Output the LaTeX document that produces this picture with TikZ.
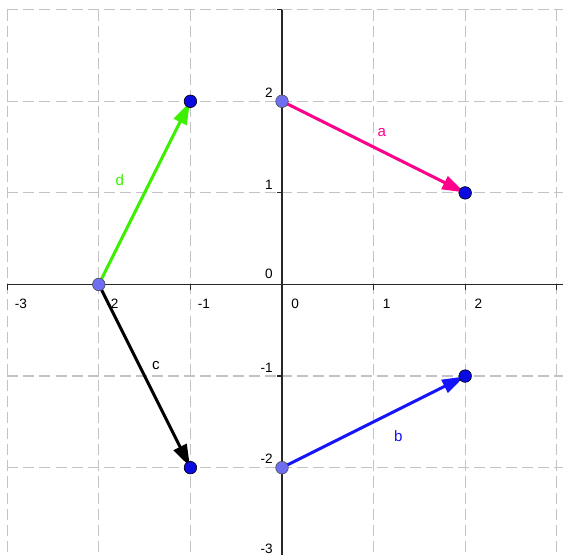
\documentclass[tikz,border=0pt]{standalone}
\usepackage{fontspec}
\setmainfont{Liberation Sans}
\usetikzlibrary{arrows.meta}
\definecolor{gridgray}{RGB}{195,195,195}
\definecolor{axisgray}{RGB}{40,40,40}
\definecolor{vecA}{RGB}{255,0,140}
\definecolor{vecB}{RGB}{20,20,255}
\definecolor{vecD}{RGB}{60,240,0}
\definecolor{startpt}{RGB}{110,110,240}
\definecolor{endpt}{RGB}{10,10,225}
\tikzset{
  gridline/.style={draw=gridgray, line width=1.2pt, dash pattern=on 11pt off 5pt},
  axisline/.style={draw=axisgray, line width=1.6pt},
  ticktext/.style={font=\fontsize{13.5}{13.5}\selectfont, inner sep=0pt, text=black},
  vecline/.style={line width=3pt, -{Triangle[length=22pt,width=14pt]}, shorten >=1pt},
  veclabel/.style={font=\fontsize{15}{15}\selectfont, inner sep=0pt},
  startdot/.style={circle, fill=startpt, draw=black!70, line width=0.6pt, minimum size=12.5pt, inner sep=0pt},
  enddot/.style={circle, fill=endpt, draw=black, line width=0.6pt, minimum size=12.5pt, inner sep=0pt}
}
\begin{document}
\begin{tikzpicture}[x=3.2cm,y=3.2cm]
\useasboundingbox (-3.079,-2.953) rectangle (3.068,3.106);
\fill[white] (-3.079,-2.953) rectangle (3.068,3.106);
% grid
\begin{scope}
\clip (-3.0,-2.953) rectangle (3.068,3.0);
\foreach \k in {-3,...,3} {
  \draw[gridline] (\k,3) -- (\k,-2.953);
}
\foreach \k in {-2,...,3} {
  \draw[gridline] (-3,\k) -- (3.068,\k);
}
\end{scope}
% axes
\draw[axisline] (-3,0) -- (3.068,0);
\draw[axisline] (0,3) -- (0,-2.953);
\foreach \k in {-3,...,3} {
  \draw[axisline, line width=1.2pt] (\k,0) -- (\k,-0.055);
}
\foreach \k in {-2,...,3} {
  \draw[axisline, line width=1.2pt] (0,\k) -- (-0.055,\k);
}
% x labels
\node[ticktext, anchor=north west] (xm3) at (-2.92,-0.155) {-3};
\node[ticktext, anchor=north west] (xm2) at (-1.92,-0.155) {-2};
\node[ticktext, anchor=north west] (xm1) at (-0.92,-0.155) {-1};
\node[ticktext, anchor=north west] (x0) at (0.1,-0.155) {0};
\node[ticktext, anchor=north west] (x1) at (1.1,-0.155) {1};
\node[ticktext, anchor=north west] (x2) at (2.1,-0.155) {2};
% y labels
\node[ticktext, anchor=south east] (y2) at (-0.1,2.04) {2};
\node[ticktext, anchor=south east] (y1) at (-0.1,1.04) {1};
\node[ticktext, anchor=south east] (y0) at (-0.1,0.06) {0};
\node[ticktext, anchor=south east] (ym1) at (-0.1,-0.96) {-1};
\node[ticktext, anchor=south east] (ym2) at (-0.1,-1.96) {-2};
\node[ticktext, anchor=south east] (ym3) at (-0.1,-2.94) {-3};
% points (coordinates)
\coordinate (A0) at (0,2);
\coordinate (A1) at (2,1);
\coordinate (B0) at (0,-2);
\coordinate (B1) at (2,-1);
\coordinate (C0) at (-2,0);
\coordinate (C1) at (-1,-2);
\coordinate (D1) at (-1,2);
% vectors
\draw[vecline, vecA] (A0) -- (A1);
\draw[vecline, vecB] (B0) -- (B1);
\draw[vecline, black] (C0) -- (C1);
\draw[vecline, vecD] (C0) -- (D1);
% labels
\node[veclabel, text=vecA] (la) at (1.09,1.66) {a};
\node[veclabel, text=vecB] (lb) at (1.27,-1.66) {b};
\node[veclabel, text=black] (lc) at (-1.376,-0.89) {c};
\node[veclabel, text=vecD] (ld) at (-1.77,1.14) {d};
% dots
\node[startdot] (pA0) at (A0) {};
\node[startdot] (pB0) at (B0) {};
\node[startdot] (pC0) at (C0) {};
\node[enddot] (pA1) at (A1) {};
\node[enddot] (pB1) at (B1) {};
\node[enddot] (pC1) at (C1) {};
\node[enddot] (pD1) at (D1) {};
\end{tikzpicture}
\end{document}
